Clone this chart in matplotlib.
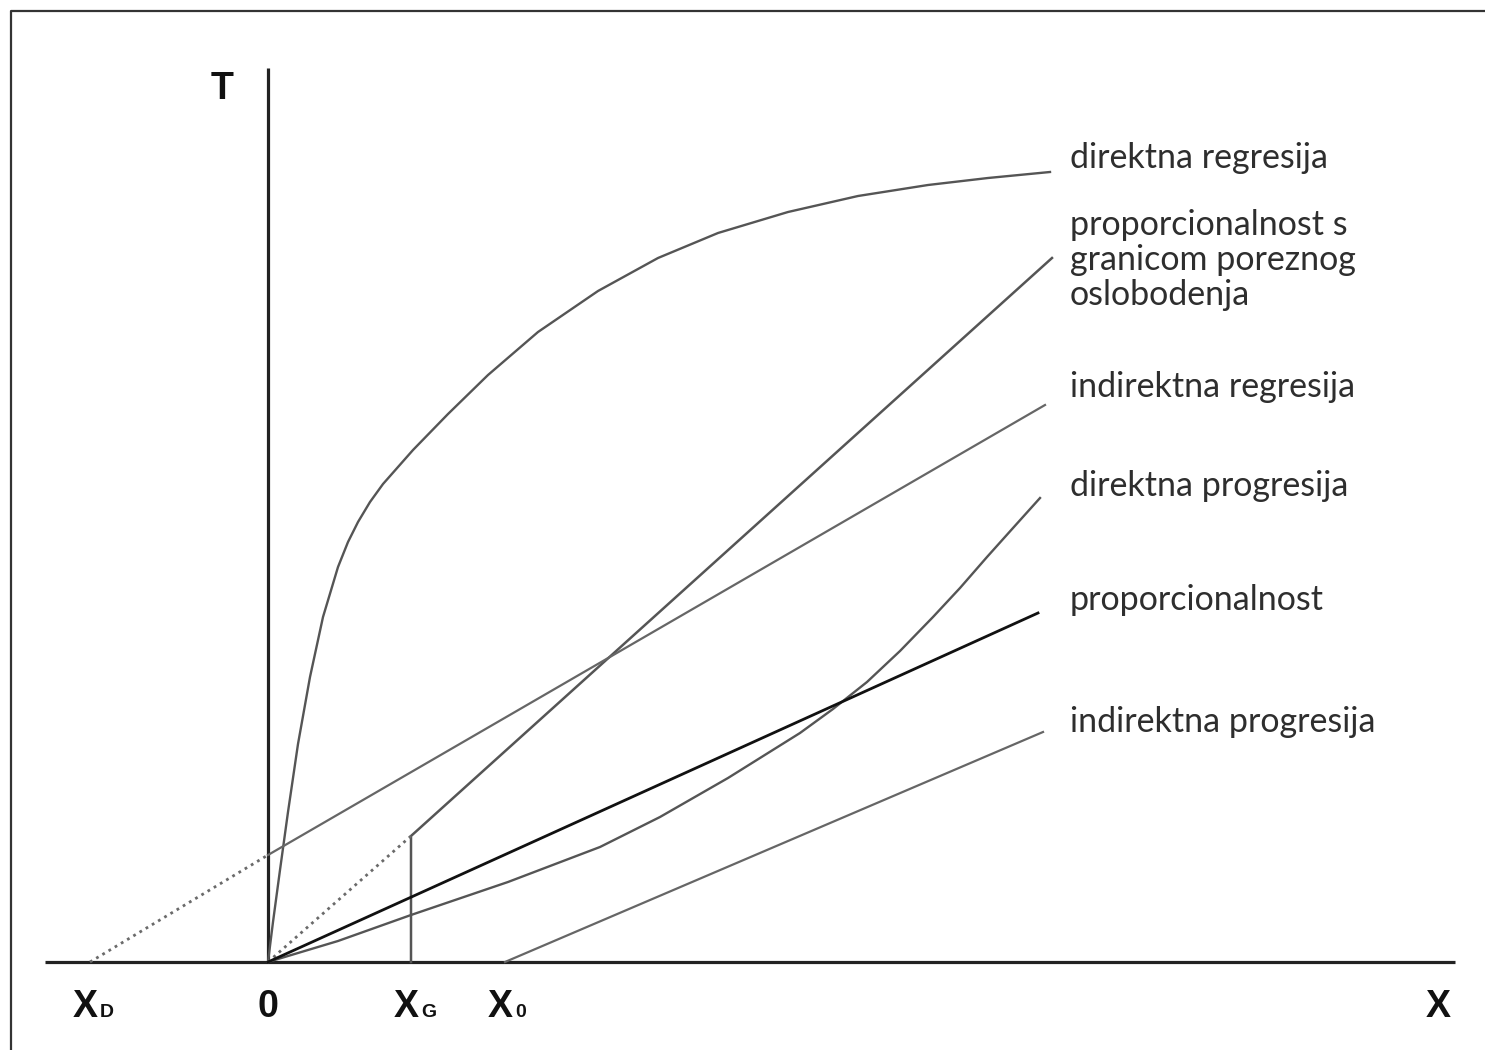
import matplotlib
matplotlib.use("Agg")
import matplotlib.pyplot as plt
from matplotlib.lines import Line2D

# tax T against income X (origin = 0)
x_d, x_g, x_0 = -1.78, 1.43, 2.37

# direktna regresija (concave)
dir_reg_x = [0, 0.05, 0.12, 0.2, 0.3, 0.42, 0.55, 0.7, 0.8, 0.9, 1.02, 1.15, 1.45, 1.8, 2.2, 2.7, 3.3, 3.9, 4.5, 5.2, 5.9, 6.6, 7.2, 7.82]
dir_reg_y = [0, 0.40, 0.92, 1.50, 2.18, 2.85, 3.45, 3.95, 4.20, 4.40, 4.60, 4.78, 5.12, 5.48, 5.87, 6.30, 6.71, 7.04, 7.29, 7.50, 7.66, 7.77, 7.84, 7.90]

# proporcionalnost s granicom poreznog oslobodenja
grn_x = [x_g, x_g, 7.84]
grn_y = [0, 1.26, 7.04]
grn_dot_x = [0, x_g]
grn_dot_y = [0, 1.26]

# indirektna regresija
ind_reg_x = [0, 7.77]
ind_reg_y = [1.07, 5.57]
ind_reg_dot_x = [x_d, 0]
ind_reg_dot_y = [0, 1.07]

# direktna progresija (convex)
dir_prog_x = [0, 0.7, 1.43, 2.4, 3.32, 3.92, 4.6, 5.32, 5.65, 5.99, 6.32, 6.65, 6.92, 7.19, 7.45, 7.72]
dir_prog_y = [0, 0.21, 0.47, 0.80, 1.15, 1.45, 1.84, 2.29, 2.53, 2.80, 3.11, 3.45, 3.74, 4.05, 4.34, 4.64]

# proporcionalnost
prop_x = [0, 7.70]
prop_y = [0, 3.49]

# indirektna progresija
ind_prog_x = [x_0, 7.75]
ind_prog_y = [0, 2.30]

labels = ["direktna regresija",
          "proporcionalnost s\ngranicom poreznog\noslobodenja",
          "indirektna regresija",
          "direktna progresija",
          "proporcionalnost",
          "indirektna progresija"]
label_y = [8.04, 7.02, 5.75, 4.76, 3.62, 2.40]

fig = plt.figure(figsize=(14.85, 10.5), dpi=100)
ax = fig.add_axes([0, 0, 1, 1])
ax.set_xlim(-2.68, 12.17)
ax.set_ylim(-0.88, 9.62)
ax.axis("off")

# frame (cut by the right and bottom edges)
fig.add_artist(Line2D([11 / 1485, 11 / 1485, 1.0], [0.0, 1 - 11 / 1050, 1 - 11 / 1050],
                      color="#333333", lw=1.6))

# axes
ax.plot([-2.23, 11.87], [0, 0], color="#222222", lw=2.3, solid_capstyle="butt")
ax.plot([0, 0], [0, 8.94], color="#222222", lw=2.3, solid_capstyle="butt")

grey = "#555555"
dots = (0, (1, 1.6))
ax.plot(dir_reg_x, dir_reg_y, color=grey, lw=1.7, solid_joinstyle="round")
ax.plot(grn_x, grn_y, color=grey, lw=1.8)
ax.plot(grn_dot_x, grn_dot_y, color="#6a6a6a", lw=2.0, ls=dots)
ax.plot(ind_reg_x, ind_reg_y, color="#666666", lw=1.6)
ax.plot(ind_reg_dot_x, ind_reg_dot_y, color="#6a6a6a", lw=2.0, ls=dots)
ax.plot(dir_prog_x, dir_prog_y, color=grey, lw=1.7, solid_joinstyle="round")
ax.plot(prop_x, prop_y, color="#111111", lw=2.0)
ax.plot(ind_prog_x, ind_prog_y, color="#666666", lw=1.6)

for txt, yy in zip(labels, label_y):
    ax.text(8.02, yy, txt, fontsize=24.5, family="Lato", color="#2e2e2e",
            ha="left", va="center", linespacing=1.12)

bold = dict(family="Liberation Sans", fontweight="bold", color="#111111")
ax.text(-0.46, 8.73, "T", fontsize=27, ha="center", va="center", **bold)

# bottom axis labels, sharing a baseline
base = -0.55
ax.text(11.70, base, "X", fontsize=27, ha="center", va="baseline", **bold)
ax.text(0, base, "0", fontsize=27, ha="center", va="baseline", **bold)
for xx, sub in [(x_d, "D"), (x_g, "G"), (x_0, "0")]:
    ax.text(xx - 0.05, base, "X", fontsize=27, ha="center", va="baseline", **bold)
    ax.text(xx + 0.10, base, sub, fontsize=14, ha="left", va="baseline", **bold)

fig.savefig("out.png", dpi=100)
